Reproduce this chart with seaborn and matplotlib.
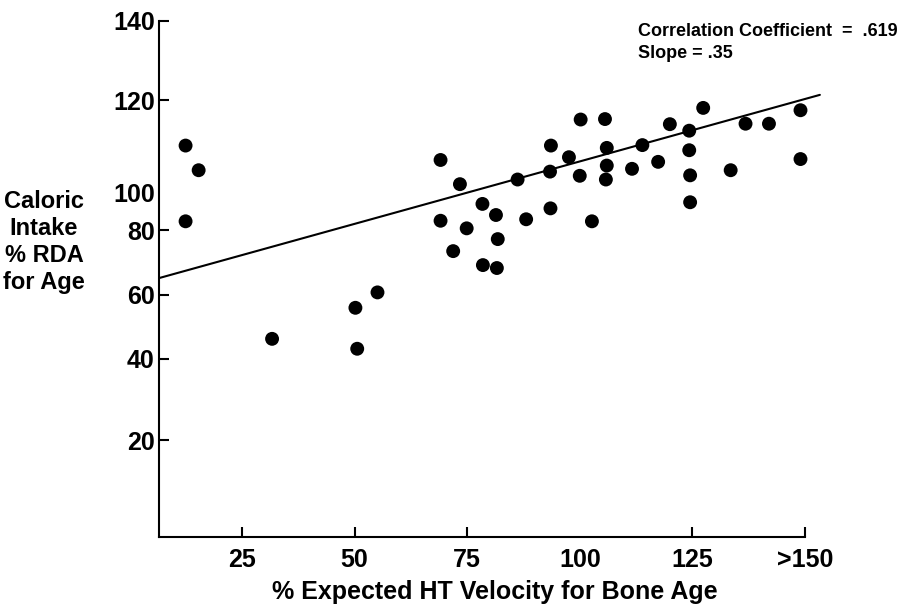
import numpy as np
import pandas as pd
import matplotlib
matplotlib.use("Agg")
import matplotlib.pyplot as plt
import seaborn as sns

# ---- data ----
x_vals = [12.5, 15.4, 12.5, 31.7, 50.2, 50.6, 55.1, 69.1, 69.1, 71.9, 73.4, 74.9,
          78.4, 81.4, 81.8, 78.5, 81.6, 86.2, 88.1, 93.6, 93.4, 93.5, 97.6, 100.2,
          100.0, 102.7, 105.6, 106.0, 106.0, 105.8, 111.6, 113.9, 117.4, 120.0,
          124.3, 124.3, 124.5, 124.5, 127.4, 133.5, 136.8, 142.0, 149.0, 149.0]
y_vals = [110.2, 104.9, 84.7, 46.3, 56.0, 43.2, 60.8, 107.1, 85.0, 73.5, 101.9, 80.9,
          94.1, 88.1, 77.2, 69.2, 68.3, 102.9, 85.8, 110.2, 104.6, 91.7, 107.7, 115.8,
          103.7, 84.7, 115.9, 109.7, 105.9, 102.9, 105.2, 110.3, 106.7, 114.8,
          113.4, 109.2, 103.8, 95.0, 118.3, 104.9, 114.9, 114.9, 117.8, 107.3]
line_x = [6.6, 153.3]
line_y = [65.2, 121.3]

x_ticks = [25, 50, 75, 100, 125, 150]
x_tick_labels = ["25", "50", "75", "100", "125", ">150"]
y_ticks = [20, 40, 60, 80, 100, 120, 140]
y_tick_labels = ["20", "40", "60", "80", "100", "120", "140"]

# the printed y axis is unevenly spaced: knots of its piecewise scale
y_knot_vals = [0, 20, 40, 60, 80, 100, 120, 140]
y_knot_pos = [0, 97, 178, 242, 307, 344, 437, 516]

annot1 = "Correlation Coefficient  =  .619"
annot2 = "Slope = .35"
xlabel = "% Expected HT Velocity for Bone Age"
ylabel = "Caloric\nIntake\n% RDA\nfor Age"

df = pd.DataFrame({"x": x_vals, "y": y_vals})

sns.set_theme(style="white")
plt.rcParams["font.family"] = ["Liberation Sans", "DejaVu Sans"]
plt.rcParams["font.weight"] = "bold"
plt.rcParams["text.color"] = "black"
plt.rcParams["xtick.color"] = "black"
plt.rcParams["ytick.color"] = "black"

kv = np.array(y_knot_vals, float)
kp = np.array(y_knot_pos, float)


def fwd(v):
    v = np.asarray(v, float)
    out = np.interp(v, kv, kp)
    s0 = (kp[1] - kp[0]) / (kv[1] - kv[0])
    s1 = (kp[-1] - kp[-2]) / (kv[-1] - kv[-2])
    out = np.where(v < kv[0], kp[0] + (v - kv[0]) * s0, out)
    out = np.where(v > kv[-1], kp[-1] + (v - kv[-1]) * s1, out)
    return out


def inv(p):
    p = np.asarray(p, float)
    out = np.interp(p, kp, kv)
    s0 = (kv[1] - kv[0]) / (kp[1] - kp[0])
    s1 = (kv[-1] - kv[-2]) / (kp[-1] - kp[-2])
    out = np.where(p < kp[0], kv[0] + (p - kp[0]) * s0, out)
    out = np.where(p > kp[-1], kv[-1] + (p - kp[-1]) * s1, out)
    return out


fig = plt.figure(figsize=(9.12, 6.08), dpi=100)
ax = fig.add_axes([159 / 912, 1 - 537 / 608, (805 - 159) / 912, (537 - 21) / 608])
ax.set_yscale("function", functions=(fwd, inv))

sns.scatterplot(data=df, x="x", y="y", ax=ax, color="black", s=100,
                edgecolor="none", clip_on=False, zorder=3)
ax.plot(line_x, line_y, color="black", lw=1.5, clip_on=False, zorder=2)

ax.set_xlim(6.6, 150)
ax.set_ylim(0, 140)
ax.set_xticks(x_ticks)
ax.set_xticklabels(x_tick_labels, fontsize=18, fontweight="bold", color="black")
ax.set_yticks(y_ticks)
ax.set_yticklabels(y_tick_labels, fontsize=18, fontweight="bold", color="black")
ax.set_xlabel("")
ax.set_ylabel("")

for side in ["top", "right"]:
    ax.spines[side].set_visible(False)
for side in ["left", "bottom"]:
    ax.spines[side].set_linewidth(1.5)
    ax.spines[side].set_color("black")

ax.tick_params(axis="y", direction="in", length=7.5, width=1.5, pad=3,
               left=True, colors="black")
ax.tick_params(axis="x", direction="in", length=7, width=1.5, pad=8,
               bottom=True, colors="black")
# no tick marks at 100 on either axis in the original
ax.xaxis.get_major_ticks()[3].tick1line.set_visible(False)
ax.yaxis.get_major_ticks()[4].tick1line.set_visible(False)

fig.text(495 / 912, 1 - 592 / 608, xlabel, ha="center", va="center",
         fontsize=18, fontweight="bold", color="black")
fig.text(44 / 912, 1 - 242 / 608, ylabel, ha="center", va="center",
         fontsize=17, fontweight="bold", linespacing=1.22,
         multialignment="center", color="black")
fig.text(638 / 912, 1 - 32 / 608, annot1, ha="left", va="center",
         fontsize=13, fontweight="bold", color="black")
fig.text(638 / 912, 1 - 53 / 608, annot2, ha="left", va="center",
         fontsize=13, fontweight="bold", color="black")

fig.savefig("out.png", dpi=100, facecolor="white")
